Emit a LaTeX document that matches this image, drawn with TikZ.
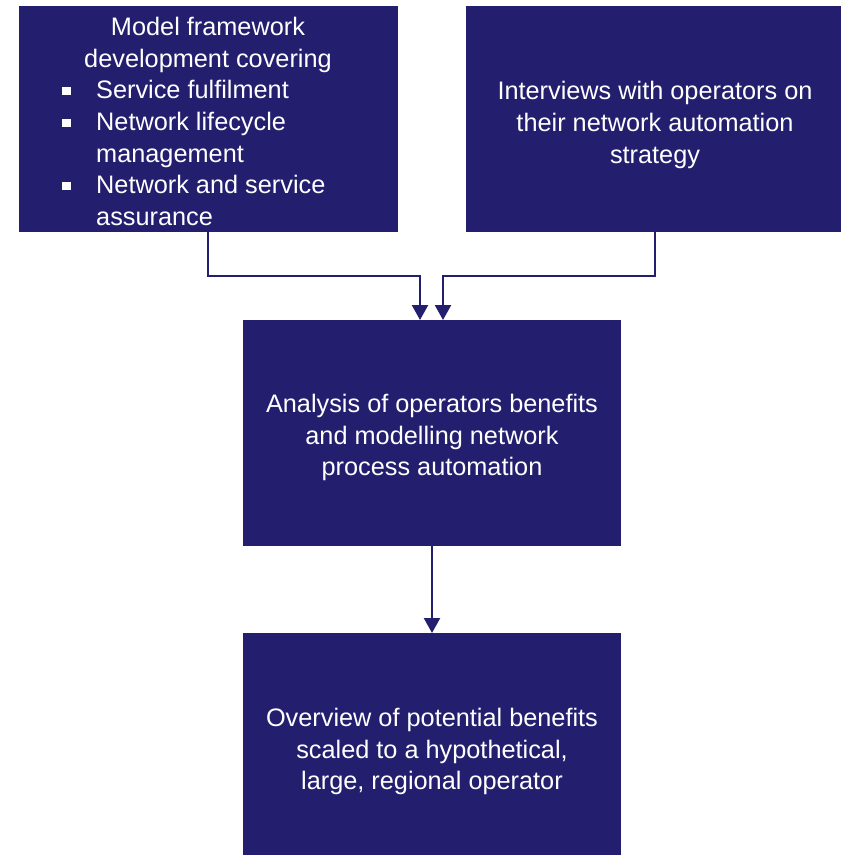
\documentclass[tikz,border=0pt]{standalone}
\usepackage{fontspec}
\setmainfont{Liberation Sans}
\usetikzlibrary{arrows.meta}
\definecolor{navy}{RGB}{35,31,110}
\tikzset{
  box/.style={fill=navy, draw=none, inner sep=0pt, outer sep=0pt, rectangle},
  txt/.style={text=white, font=\fontsize{25.3}{31.7}\selectfont, anchor=base, inner sep=0pt},
  ltxt/.style={txt, anchor=base west},
  bul/.style={fill=white, draw=none, inner sep=0pt, minimum size=8.5pt, rectangle},
  conn/.style={draw=navy, line width=2.3pt, -{Triangle[width=16pt,length=15pt]}}
}
\begin{document}
\begin{tikzpicture}[x=1pt,y=-1pt]
\useasboundingbox (0,0) rectangle (841,855);
% boxes
\node[box, minimum width=379pt, minimum height=226pt] (b1) at (208.5,119) {};
\node[box, minimum width=375pt, minimum height=226pt] (b2) at (653.5,119) {};
\node[box, minimum width=378pt, minimum height=226pt] (b3) at (432,433) {};
\node[box, minimum width=378pt, minimum height=222pt] (b4) at (432,744) {};
% box 1 text
\node[txt] (t1a) at (208,35) {Model framework};
\node[txt] (t1b) at (208,67) {development covering};
\node[bul] (k1) at (66.5,91) {};
\node[ltxt] (t1c) at (96,98) {Service fulfilment};
\node[bul] (k2) at (66.5,123) {};
\node[ltxt] (t1d) at (96,130) {Network lifecycle};
\node[ltxt] (t1e) at (96,162) {management};
\node[bul] (k3) at (66.5,186) {};
\node[ltxt] (t1f) at (96,193) {Network and service};
\node[ltxt] (t1g) at (96,225) {assurance};
% box 2 text
\node[txt] (t2a) at (655,99) {Interviews with operators on};
\node[txt] (t2b) at (655,131) {their network automation};
\node[txt] (t2c) at (655,163) {strategy};
% box 3 text
\node[txt] (t3a) at (432,412) {Analysis of operators benefits};
\node[txt] (t3b) at (432,444) {and modelling network};
\node[txt] (t3c) at (432,475) {process automation};
% box 4 text
\node[txt] (t4a) at (432,726) {Overview of potential benefits};
\node[txt] (t4b) at (432,758) {scaled to a hypothetical,};
\node[txt] (t4c) at (432,789) {large, regional operator};
% connectors
\draw[conn] ([xshift=-0.5pt]b1.south) -- ++(0,44) -| ([xshift=-12pt]b3.north);
\draw[conn] ([xshift=1.5pt]b2.south) -- ++(0,44) -| ([xshift=11pt]b3.north);
\draw[conn] (b3.south) -- (b4.north);
\end{tikzpicture}
\end{document}
